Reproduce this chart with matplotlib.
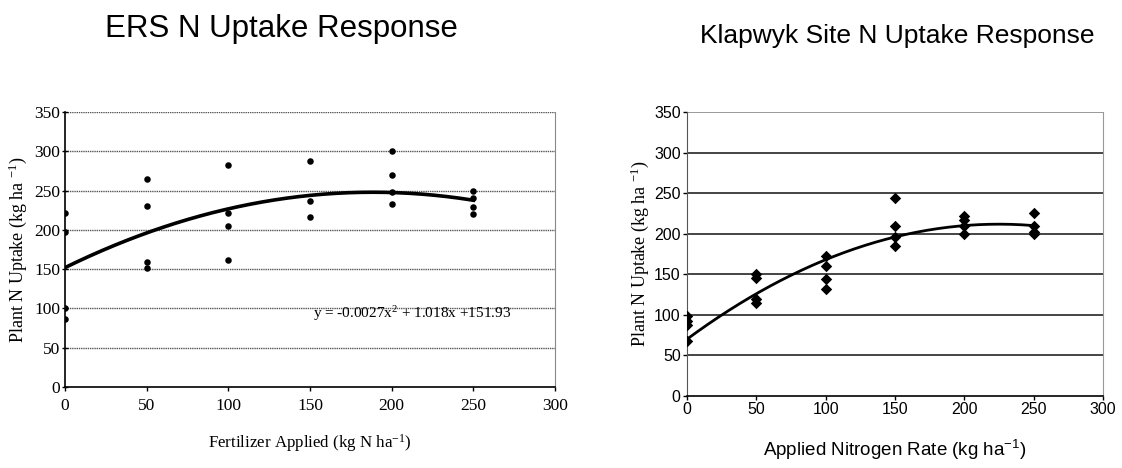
import numpy as np
import matplotlib
matplotlib.use("Agg")
import matplotlib.pyplot as plt

# ---------------- data ----------------
ers_x = [0, 0, 0, 0,
         50, 50, 50, 50,
         100, 100, 100, 100,
         150, 150, 150,
         200, 200, 200, 200,
         250, 250, 250, 250]
ers_y = [221, 197, 100, 87,
         265, 231, 159, 152,
         282, 222, 205, 162,
         288, 237, 217,
         300, 270, 248, 233,
         250, 240, 229, 220]
ers_coef = [-0.0027, 1.018, 151.93]   # trendline printed on the chart
ers_eq = "y = -0.0027x$\\mathregular{^2}$ + 1.018x +151.93"

kl_x = [0, 0, 0, 0,
        50, 50, 50, 50,
        100, 100, 100, 100,
        150, 150, 150, 150,
        200, 200, 200, 200,
        250, 250, 250, 250]
kl_y = [98, 92, 87, 68,
        150, 146, 119, 115,
        172, 160, 144, 132,
        244, 209, 196, 185,
        222, 217, 210, 200,
        226, 209, 202, 200]
kl_coef = [-0.0028, 1.26, 70.0]      # trendline

x_ticks = [0, 50, 100, 150, 200, 250, 300]
y_ticks = [0, 50, 100, 150, 200, 250, 300, 350]

serif = "Liberation Serif"
sans = "Liberation Sans"

W, H = 1122, 468
fig = plt.figure(figsize=(W / 100, H / 100), dpi=100)

# ---------------- left chart ----------------
ax1 = fig.add_axes([65 / W, 1 - 387 / H, 490 / W, 275 / H])
ax1.set_xlim(0, 300)
ax1.set_ylim(0, 350)
for yv in y_ticks[1:]:
    ax1.axhline(yv, color="#555555", lw=1.0, ls=(0, (1, 0.6)), zorder=1)
ax1.scatter(ers_x, ers_y, s=22, marker="o", color="black", zorder=3, linewidths=0)
xs = np.linspace(0, 250, 200)
ax1.plot(xs, np.polyval(ers_coef, xs), color="black", lw=2.6, zorder=2)
ax1.text(152, 94, ers_eq, fontsize=11, family=serif, va="center", ha="left")
ax1.set_xticks(x_ticks)
ax1.set_yticks(y_ticks)
ax1.set_xticklabels([str(v) for v in x_ticks], family=serif, fontsize=12.5)
ax1.set_yticklabels([str(v) for v in y_ticks], family=serif, fontsize=12.5)
ax1.tick_params(axis="y", direction="inout", length=5, width=1, pad=1)
ax1.tick_params(axis="x", direction="out", length=3, width=1, pad=5)
ax1.spines["top"].set_visible(False)
ax1.spines["right"].set_color("#888888")
ax1.spines["left"].set_linewidth(1.2)
ax1.spines["bottom"].set_linewidth(1.2)
ax1.set_ylabel("Plant N Uptake (kg ha $\\mathregular{^{-1}}$)", family=serif, fontsize=13, labelpad=4)
ax1.set_xlabel("Fertilizer Applied (kg N ha$\\mathregular{^{-1}}$)", family=serif, fontsize=12.2, labelpad=13)
fig.text(281 / W, 1 - 36.7 / H, "ERS N Uptake Response", family=sans, fontsize=22.5,
         ha="center", va="baseline")

# ---------------- right chart ----------------
ax2 = fig.add_axes([687 / W, 1 - 396 / H, 416 / W, 284 / H])
ax2.set_xlim(0, 300)
ax2.set_ylim(0, 350)
for yv in y_ticks[1:]:
    ax2.axhline(yv, color="#444444" if yv < 350 else "#999999", lw=1.4, zorder=1)
ax2.scatter(kl_x, kl_y, s=34, marker="D", color="black", zorder=3, linewidths=0)
xs2 = np.linspace(0, 250, 200)
ax2.plot(xs2, np.polyval(kl_coef, xs2), color="black", lw=2.0, zorder=2)
ax2.set_xticks(x_ticks)
ax2.set_yticks(y_ticks)
ax2.set_xticklabels([str(v) for v in x_ticks], family=sans, fontsize=11.5)
ax2.set_yticklabels([str(v) for v in y_ticks], family=sans, fontsize=11.5)
ax2.tick_params(direction="out", length=3, width=1, pad=1.5)
ax2.spines["top"].set_visible(False)
ax2.spines["right"].set_color("#999999")
ax2.spines["left"].set_color("#555555")
ax2.spines["bottom"].set_linewidth(1.2)
ax2.set_ylabel("Plant N Uptake (kg ha $\\mathregular{^{-1}}$)", family=serif, fontsize=13, labelpad=2)
ax2.set_xlabel("Applied Nitrogen Rate (kg ha$\\mathregular{^{-1}}$)", family=sans, fontsize=13.5, labelpad=15)
fig.text(1095 / W, 1 - 43.3 / H, "Klapwyk Site N Uptake Response", family=sans, fontsize=19,
         ha="right", va="baseline")

fig.savefig("out.png", dpi=100)
